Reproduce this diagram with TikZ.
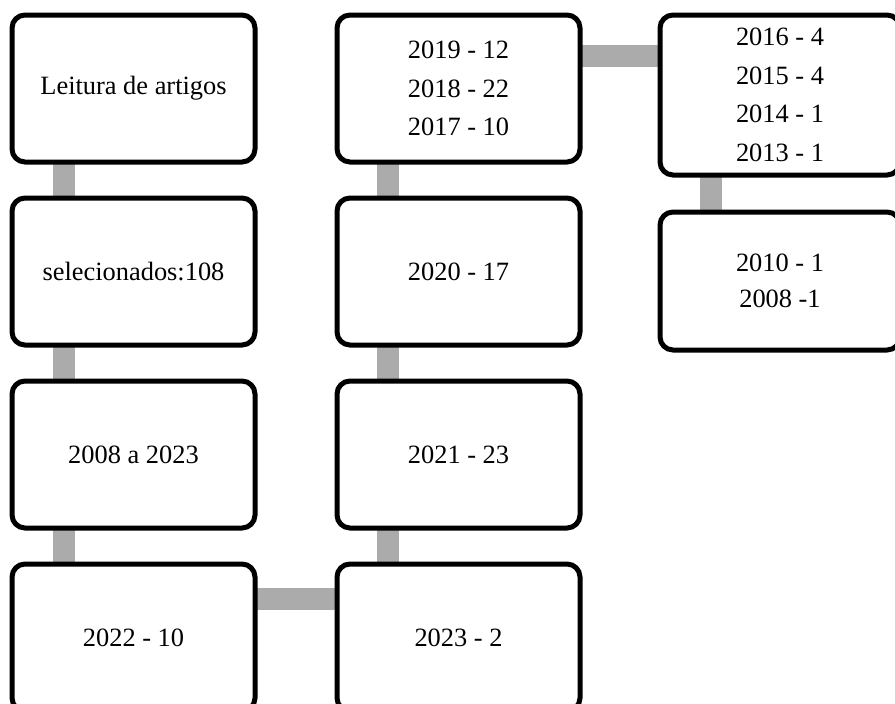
\documentclass[tikz,border=0pt]{standalone}
\usepackage{fontspec}
\setmainfont{Liberation Serif}
\usepackage{xcolor}
\usetikzlibrary{positioning, backgrounds}
\definecolor{ink}{HTML}{000000}
\definecolor{bar}{HTML}{ABABAB}

\begin{document}
\begin{tikzpicture}[x=1pt, y=1pt,
  node distance=36pt and 82pt,
  card/.style={rectangle, rounded corners=13pt, draw=ink, line width=5pt,
    fill=white, text=ink, align=center, minimum height=147pt,
    minimum width=243pt, inner sep=0pt, outer sep=0pt,
    font=\fontsize{26.4}{38.5}\selectfont},
  link/.style={draw=bar, line width=22pt}
]
\useasboundingbox (0,0) rectangle (895,-704);

\node[card] (leitura) at (133.5,-88.5) {Leitura de artigos};
\node[card, below=of leitura] (selec) {selecionados:108};
\node[card, below=of selec] (periodo) {2008 a 2023};
\node[card, below=of periodo] (a2022) {2022 - 10};
\node[card, right=of a2022] (a2023) {2023 - 2};
\node[card, above=of a2023] (a2021) {2021 - 23};
\node[card, above=of a2021] (a2020) {2020 - 17};
\node[card, above=of a2020] (a2019) {2019 - 12\\2018 - 22\\2017 - 10};
\node[card, minimum width=240pt, minimum height=160pt,
  right=80pt of a2019.north east, anchor=north west] (a2016)
  {2016 - 4\\2015 - 4\\2014 - 1\\2013 - 1};
\node[card, minimum width=240pt, minimum height=138pt,
  font=\fontsize{26.4}{36}\selectfont, below=37pt of a2016] (a2010)
  {2010 - 1\\2008 -1};

\begin{scope}[on background layer]
\draw[link] ([xshift=52pt]leitura.south west) -- ([xshift=52pt]selec.north west);
\draw[link] ([xshift=52pt]selec.south west) -- ([xshift=52pt]periodo.north west);
\draw[link] ([xshift=52pt]periodo.south west) -- ([xshift=52pt]a2022.north west);
\draw[link] ([yshift=-35pt]a2022.north east) -- ([yshift=-35pt]a2023.north west);
\draw[link] ([xshift=51pt]a2023.north west) -- ([xshift=51pt]a2021.south west);
\draw[link] ([xshift=51pt]a2021.north west) -- ([xshift=51pt]a2020.south west);
\draw[link] ([xshift=51pt]a2020.north west) -- ([xshift=51pt]a2019.south west);
\draw[link] ([yshift=-41pt]a2019.north east) -- ([yshift=-41pt]a2016.north west);
\draw[link] ([xshift=51pt]a2016.south west) -- ([xshift=51pt]a2010.north west);
\end{scope}
\end{tikzpicture}
\end{document}
